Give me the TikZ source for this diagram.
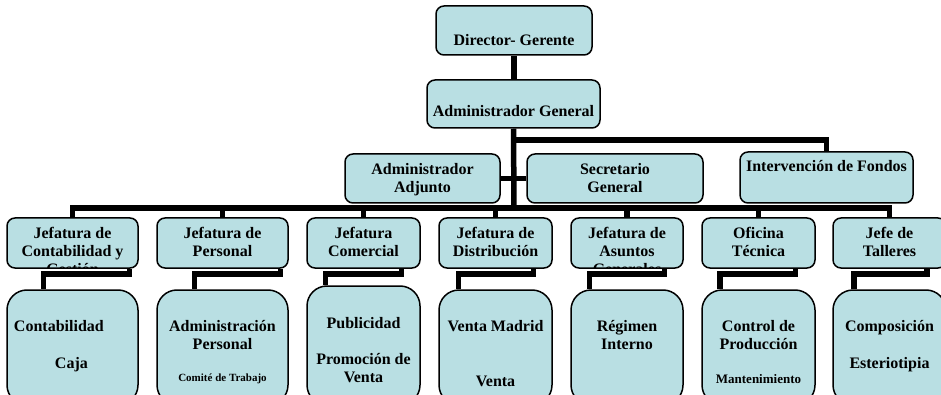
\documentclass[tikz,border=0pt]{standalone}
\usepackage{fontspec}
\setmainfont{Liberation Serif}
\usetikzlibrary{positioning}
\definecolor{celeste}{RGB}{185,223,227}
\newcommand{\chica}{\fontsize{11}{13}\selectfont}
\newcommand{\media}{\fontsize{13}{15}\selectfont}

\begin{document}
\begin{tikzpicture}[
  x=1pt, y=-1pt,
  caja/.style={draw, line width=1.5pt, fill=celeste, rounded corners=8pt, inner sep=0pt},
  hoja/.style={caja, rounded corners=20pt},
  rotulo/.style 2 args={path picture={\node[anchor=north, inner sep=0pt, minimum size=0pt, align=center, font=\bfseries\fontsize{16}{18}\selectfont, #1] at (path picture bounding box.north) {\strut#2};}},
  rama/.style={line width=5.5pt}
]
\useasboundingbox (0,0) rectangle (941,395);
\clip (0,0) rectangle (941,395);

\node[caja, minimum width=156pt, minimum height=49pt, rotulo={yshift=-25.7pt}{Director- Gerente}] (director) at (514,30.5) {};
\node[caja, minimum width=173pt, minimum height=48pt, rotulo={yshift=-22.7pt}{Administrador General}] (admgen) at (513.5,104) {};

\node[caja, minimum width=155pt, minimum height=49pt, rotulo={yshift=-6.7pt}{Administrador\\Adjunto}] (adjunto) at (422.5,178.5) {};
\node[caja, minimum width=176pt, minimum height=49pt, rotulo={yshift=-6.7pt}{Secretario\\General}] (secretario) at (615,178.5) {};
\node[caja, minimum width=173pt, minimum height=51pt, rotulo={yshift=-5.7pt}{Intervención de Fondos}] (interv) at (826.5,177.5) {};

\node[caja, minimum width=131pt, minimum height=50pt, rotulo={yshift=-6.7pt}{Jefatura de\\Contabilidad y\\Gestión}] (conta) at (72.5,243) {};
\node[caja, minimum width=131pt, minimum height=50pt, rotulo={yshift=-6.7pt}{Jefatura de\\Personal}] (personal) at (222.5,243) {};
\node[caja, minimum width=113pt, minimum height=50pt, rotulo={yshift=-6.7pt}{Jefatura\\Comercial}] (comercial) at (363.5,243) {};
\node[caja, minimum width=113pt, minimum height=50pt, rotulo={yshift=-6.7pt}{Jefatura de\\Distribución}] (distrib) at (495.5,243) {};
\node[caja, minimum width=112pt, minimum height=50pt, rotulo={yshift=-6.7pt}{Jefatura de\\Asuntos\\Generales}] (asuntos) at (627,243) {};
\node[caja, minimum width=113pt, minimum height=50pt, rotulo={yshift=-6.7pt}{Oficina\\Técnica}] (oficina) at (758.5,243) {};
\node[caja, minimum width=113pt, minimum height=50pt, rotulo={yshift=-6.7pt}{Jefe de\\Talleres}] (talleres) at (889.5,243) {};

\node[hoja, minimum width=131pt, minimum height=115pt, rotulo={yshift=-27.7pt, xshift=-13.6pt, align=left}{Contabilidad\\[19pt]\hspace*{41pt}Caja}] (contab) at (72.5,347.5) {};
\node[hoja, minimum width=131pt, minimum height=115pt, rotulo={yshift=-27.7pt}{Administración\\Personal\\[14pt]{\chica Comité de Trabajo}}] (adminper) at (222.5,347.5) {};
\node[hoja, minimum width=113pt, minimum height=119pt, rotulo={yshift=-28.7pt}{Publicidad\\[18pt]Promoción de\\Venta}] (publi) at (363.5,345.5) {};
\node[hoja, minimum width=113pt, minimum height=115pt, rotulo={yshift=-27.7pt}{Venta Madrid\\[37pt]Venta}] (ventas) at (495.5,347.5) {};
\node[hoja, minimum width=112pt, minimum height=115pt, rotulo={yshift=-27.7pt}{Régimen\\Interno}] (regimen) at (627,347.5) {};
\node[hoja, minimum width=113pt, minimum height=115pt, rotulo={yshift=-27.7pt}{Control de\\Producción\\[16pt]{\media Mantenimiento}}] (control) at (758.5,347.5) {};
\node[hoja, minimum width=113pt, minimum height=115pt, rotulo={yshift=-27.7pt}{Composición\\[19pt]Esteriotipia}] (compos) at (889.5,347.5) {};

\coordinate (codo) at (514,140);
\coordinate (nivel) at (514,208);

\draw[rama] (director.south) -- (director.south |- admgen.north);
\draw[rama] (admgen.south) -- (nivel);
\draw[rama] (codo) -| (interv.north);
\draw[rama] (adjunto.east) -- (secretario.west);
\draw[rama] (conta.north) |- (talleres.north |- nivel) -- (talleres.north);
\foreach \j in {personal,comercial,distrib,asuntos,oficina}
  \draw[rama] (nivel -| \j) -- (\j.north);
\foreach \a/\b/\d/\i in {conta/contab/123/37, personal/adminper/124/38, comercial/publi/95/19, distrib/ventas/95/20, asuntos/regimen/94/19, oficina/control/94/18.5, talleres/compos/94.5/21.5}
  \draw[rama] ([xshift=\d pt]\a.south west) -- ++(0,5) -| ([xshift=\i pt]\b.north west);
\end{tikzpicture}
\end{document}
